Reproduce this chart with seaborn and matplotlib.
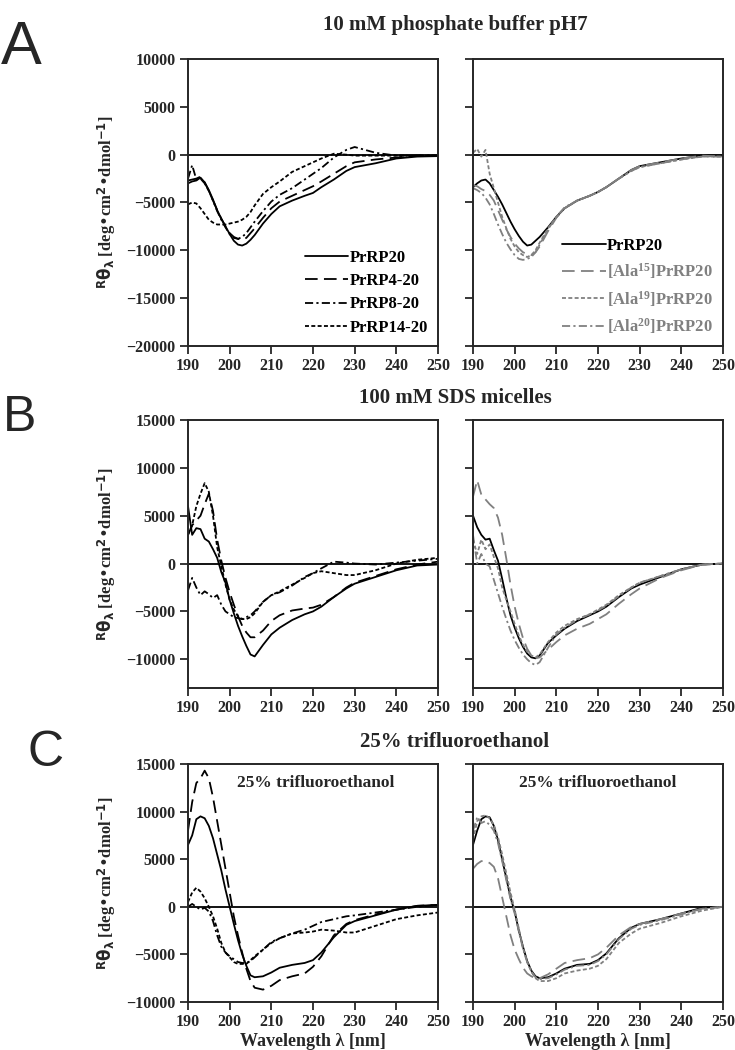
import numpy as np
import pandas as pd
import matplotlib
matplotlib.use("Agg")
import matplotlib.pyplot as plt
import seaborn as sns

sns.set_style("ticks")
plt.rcParams['font.family'] = ['Liberation Serif', 'DejaVu Serif']
plt.rcParams['font.weight'] = 'bold'
plt.rcParams['mathtext.default'] = 'regular'

# wavelength grid (nm) the values were read at
wl = [190, 191, 192, 193, 194, 195, 196, 197, 198, 199, 200, 201, 202, 203, 204, 205,
      206, 208, 210, 212, 215, 218, 220, 222, 225, 228, 230, 235, 240, 245, 250]

# A: 10 mM phosphate buffer pH7
a_prrp20 = [-3000, -2800, -2700, -2400, -2900, -3700, -4700, -5800, -6700, -7500, -8300, -9000, -9400, -9500, -9300, -8900,
            -8400, -7200, -6200, -5400, -4800, -4300, -4000, -3400, -2600, -1700, -1300, -900, -400, -200, -150]
a_prrp4 = [-2700, -2600, -2500, -2300, -2900, -3800, -4800, -5800, -6700, -7500, -8200, -8600, -8800, -8900, -8700, -8200,
           -7700, -6600, -5600, -4900, -4300, -3700, -3300, -2800, -2000, -1200, -800, -500, -300, -100, -100]
a_prrp8 = [-2500, -1100, -2600, -2500, -3000, -3800, -4800, -5900, -6800, -7600, -8300, -8700, -8800, -8600, -8200, -7600,
           -7000, -5900, -4900, -4200, -3500, -2600, -2000, -1400, -300, 500, 800, 200, -100, -100, -100]
a_prrp14 = [-5200, -5000, -5100, -5600, -6200, -6800, -7100, -7300, -7300, -7300, -7200, -7100, -7000, -6800, -6500, -6000,
            -5300, -4100, -3400, -2800, -1800, -1200, -800, -400, 100, 0, -100, -100, -100, -100, -100]
a_r_prrp20 = [-3400, -3000, -2700, -2600, -3000, -3700, -4400, -5200, -6100, -7000, -7800, -8500, -9100, -9500, -9400, -9000,
              -8600, -7600, -6500, -5600, -4800, -4300, -3900, -3400, -2500, -1600, -1200, -800, -400, -100, -100]
a_ala15 = [-3200, -3300, -3600, -3800, -4200, -4800, -5800, -6800, -7800, -8600, -9300, -9800, -10200, -10400, -10500, -10200,
           -9600, -8000, -6600, -5600, -4800, -4300, -3900, -3400, -2500, -1600, -1200, -800, -400, -100, -200]
a_ala19 = [200, 600, -200, 500, -2000, -3500, -5000, -6500, -7700, -8800, -9600, -10200, -10500, -10700, -10500, -10000,
           -9200, -7700, -6500, -5600, -4800, -4300, -3900, -3400, -2500, -1700, -1300, -900, -500, -200, -200]
a_ala20 = [-3500, -3700, -4000, -4500, -5200, -6200, -7300, -8300, -9200, -9900, -10500, -10900, -11000, -10900, -10700, -10200,
           -9400, -7800, -6500, -5500, -4800, -4300, -3900, -3400, -2500, -1700, -1300, -900, -500, -200, -200]

# B: 100 mM SDS micelles
b_prrp20 = [6000, 3000, 3700, 3600, 2600, 2300, 1500, 600, -900, -2000, -3800, -5200, -6500, -7600, -8600, -9500,
            -9700, -8500, -7400, -6700, -5900, -5300, -5000, -4500, -3500, -2600, -2100, -1400, -700, -200, -100]
b_prrp4 = [3000, 4000, 4500, 5000, 6200, 7300, 5500, 2500, 300, -1500, -3000, -4300, -5500, -6500, -7200, -7700,
           -7700, -7000, -6000, -5400, -4900, -4700, -4600, -4300, -3500, -2500, -2000, -1300, -600, -100, 200]
b_prrp8 = [-2800, -1500, -2500, -3300, -2900, -3200, -3600, -3300, -4300, -5000, -5300, -5600, -5700, -5800, -5600, -5400,
           -5000, -4000, -3300, -3000, -2300, -1400, -1000, -500, 200, 100, 0, -100, 100, 300, 500]
b_prrp14 = [3000, 4000, 6000, 7300, 8400, 7500, 5000, 1700, -300, -2200, -3800, -4800, -5500, -5800, -5800, -5600,
            -5200, -4000, -3300, -2900, -2200, -1500, -1000, -800, -1000, -1200, -1200, -700, 0, 400, 600]
b_r_prrp20 = [5000, 3800, 3000, 2500, 2600, 1400, 300, -1600, -3600, -5400, -6700, -7800, -8700, -9400, -9800, -9900,
              -9600, -8300, -7500, -6800, -6000, -5400, -5000, -4500, -3500, -2600, -2200, -1400, -600, -100, 0]
b_ala15 = [7000, 8700, 7200, 6700, 6200, 5800, 4800, 3000, 500, -2200, -4500, -6300, -7800, -8900, -9600, -9900,
           -9800, -9000, -8200, -7500, -6800, -6300, -5800, -5300, -4200, -3200, -2600, -1500, -700, -100, 0]
b_ala19 = [2500, 1000, 2500, 1500, 2000, 700, -500, -2500, -3800, -5000, -6300, -7500, -8500, -9200, -9600, -9800,
           -9500, -8200, -7200, -6500, -5800, -5300, -4800, -4300, -3300, -2500, -2000, -1300, -600, -100, 0]
b_ala20 = [3000, 0, 1000, 0, -300, -1700, -3100, -4500, -5800, -7000, -8000, -8800, -9500, -10000, -10400, -10600,
           -10300, -8800, -7400, -6700, -5900, -5300, -4900, -4400, -3400, -2500, -2000, -1300, -600, -100, 0]

# C: 25% trifluoroethanol
c_prrp20 = [6500, 7500, 9200, 9500, 9300, 8500, 7200, 5500, 3800, 1800, 0, -1800, -3500, -5000, -6200, -7200,
            -7400, -7300, -6900, -6400, -6100, -5900, -5600, -4800, -3200, -1900, -1500, -900, -300, 100, 200]
c_prrp4 = [8000, 11000, 13000, 13500, 14300, 13500, 11500, 9000, 6500, 4000, 1500, -1000, -3000, -4800, -6500, -7800,
           -8500, -8700, -8300, -7700, -7300, -7000, -6300, -5200, -3000, -1800, -1400, -800, -300, 100, 200]
c_prrp8 = [0, 300, 0, -300, -100, -500, -1500, -3000, -4200, -4800, -5200, -5500, -5800, -5900, -5900, -5700,
           -5300, -4500, -3700, -3300, -2800, -2400, -2000, -1600, -1300, -1000, -900, -600, -300, 0, 200]
c_prrp14 = [500, 1500, 2000, 1600, 900, 0, -1000, -2300, -3800, -4800, -5300, -5800, -6000, -6000, -6000, -5600,
            -5200, -4500, -3800, -3300, -2800, -2700, -2600, -2400, -2500, -2700, -2700, -2000, -1300, -900, -600]
c_r_prrp20 = [6500, 8000, 9200, 9500, 9400, 8500, 7000, 5000, 3000, 1000, -500, -2500, -4200, -5700, -6700, -7300,
              -7500, -7400, -7000, -6500, -6100, -6000, -5600, -4900, -3300, -2200, -1800, -1300, -700, -100, 0]
c_ala15 = [4000, 4500, 4800, 4800, 4600, 4200, 3000, 1000, -1000, -3000, -4500, -5500, -6400, -7000, -7300, -7500,
           -7500, -7100, -6500, -5900, -5600, -5400, -5000, -4300, -3000, -2100, -1800, -1300, -700, -200, 0]
c_ala19 = [7000, 9000, 9500, 9600, 9300, 8600, 7300, 5500, 3500, 1500, -300, -2300, -4300, -5800, -6800, -7500,
           -7800, -7800, -7500, -7000, -6700, -6500, -6200, -5500, -3800, -2800, -2300, -1700, -1000, -400, 0]
c_ala20 = [8000, 9400, 8800, 9000, 8600, 8000, 6700, 4800, 2800, 800, -700, -2600, -4400, -5800, -6800, -7400,
           -7600, -7500, -7100, -6600, -6200, -6100, -5700, -5000, -3400, -2300, -1900, -1400, -800, -200, 0]

left_names = ["PrRP20", "PrRP4-20", "PrRP8-20", "PrRP14-20"]
right_names = ["PrRP20", "[Ala$^{15}$]PrRP20", "[Ala$^{19}$]PrRP20", "[Ala$^{20}$]PrRP20"]
row_titles = ["10 mM phosphate buffer pH7", "100 mM SDS micelles", "25% trifluoroethanol"]
row_letters = ["A", "B", "C"]
row_ylims = [(-20000, 10000), (-13000, 15000), (-10000, 15000)]
row_yticks = [np.arange(-20000, 10001, 5000), np.arange(-10000, 15001, 5000), np.arange(-10000, 15001, 5000)]

left_data = [[a_prrp20, a_prrp4, a_prrp8, a_prrp14],
             [b_prrp20, b_prrp4, b_prrp8, b_prrp14],
             [c_prrp20, c_prrp4, c_prrp8, c_prrp14]]
right_data = [[a_r_prrp20, a_ala15, a_ala19, a_ala20],
              [b_r_prrp20, b_ala15, b_ala19, b_ala20],
              [c_r_prrp20, c_ala15, c_ala19, c_ala20]]

grey = "#808080"
solid = "-"
long_dash = (0, (7, 3.5))
dash_dot = (0, (4.5, 1.8, 1.2, 1.8))
dotted = (0, (2.2, 1.3))
left_styles = [solid, long_dash, dash_dot, dotted]
right_styles = [solid, long_dash, dotted, dash_dot]
left_colors = ["black", "black", "black", "black"]
right_colors = ["black", grey, grey, grey]

fig = plt.figure(figsize=(7.35, 10.5), dpi=100)
W, H = 735, 1050
rows_px = [(59, 346), (420, 688), (764, 1002)]
cols_px = [(188, 438), (473, 723)]
title_y = [25, 398, 742]
ylabel = r"$^{\mathsf{R}}\mathsf{\theta}_{\mathsf{\lambda}}$ [deg•cm$^{\mathbf{2}}$•dmol$^{\mathbf{-1}}$]"

for r in range(3):
    top, bot = rows_px[r]
    for c in range(2):
        x0, x1 = cols_px[c]
        ax = fig.add_axes([x0 / W, 1 - bot / H, (x1 - x0) / W, (bot - top) / H])
        data = left_data[r] if c == 0 else right_data[r]
        names = left_names if c == 0 else right_names
        colors = left_colors if c == 0 else right_colors
        styles = left_styles if c == 0 else right_styles
        for vals, name, col, ls in zip(data, names, colors, styles):
            df = pd.DataFrame({"wavelength": wl, "theta": vals})
            sns.lineplot(data=df, x="wavelength", y="theta", ax=ax, color=col,
                         linestyle=ls, lw=1.3, label=name, legend=False)
        ax.axhline(0, color="black", lw=1.3, zorder=0)
        ax.set_xlim(190, 250)
        ax.set_ylim(*row_ylims[r])
        ax.set_xticks(range(190, 251, 10))
        ax.set_yticks(row_yticks[r])
        for s in ax.spines.values():
            s.set_linewidth(1.4)
            s.set_visible(True)
        ax.tick_params(direction="out", length=6, width=1.3, labelsize=11.5, pad=3)
        for lab in ax.get_xticklabels() + ax.get_yticklabels():
            lab.set_fontweight("bold")
        if c == 1:
            ax.set_yticklabels([])
            ax.set_ylabel("")
        else:
            ax.set_ylabel(ylabel, fontsize=12, fontweight="bold")
            ax.yaxis.set_label_coords(-0.28, 0.5)
        if r == 2:
            ax.set_xlabel("Wavelength λ [nm]", fontsize=13, fontweight="bold", labelpad=2)
            ax.text(0.5 if c == 1 else 0.51, 0.92, "25% trifluoroethanol", transform=ax.transAxes,
                    ha="center", va="center", fontsize=12.5, fontweight="bold")
        else:
            ax.set_xlabel("")
        if r == 0:
            leg = ax.legend(loc="lower right", frameon=False, handlelength=2.6,
                            handletextpad=0.1, labelspacing=0.45, borderaxespad=0.2,
                            prop={"weight": "bold", "size": 12})
            for t, col in zip(leg.get_texts(), colors):
                t.set_color(col)

    fig.text(455 / W, 1 - title_y[r] / H, row_titles[r],
             ha="center", va="center", fontsize=15, fontweight="bold")

letter_pos = [(21, 48, 44), (20, 418, 36), (46, 753, 36)]
for (x, y, fs), letter in zip(letter_pos, row_letters):
    fig.text(x / W, 1 - y / H, letter, ha="center", va="center", fontsize=fs,
             family="Liberation Sans", fontweight="normal")

fig.savefig("out.png", dpi=100)
